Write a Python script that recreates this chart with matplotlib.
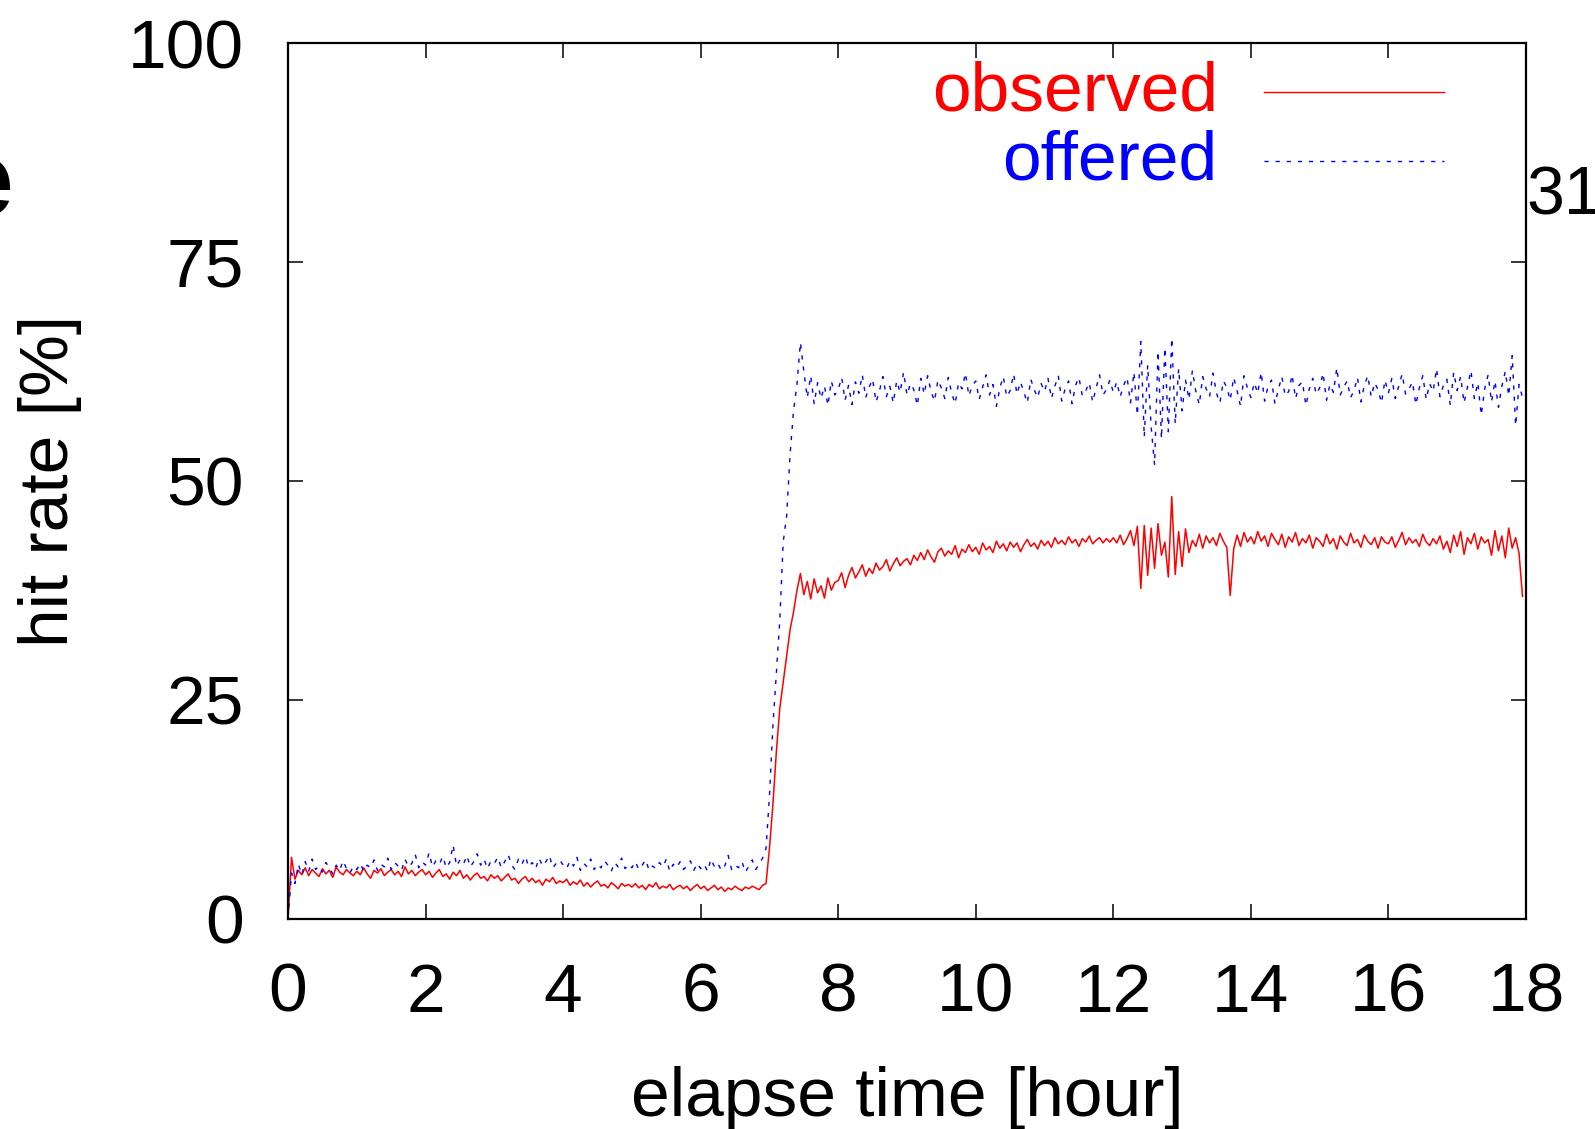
import numpy as np
import matplotlib
matplotlib.use("Agg")
import matplotlib.pyplot as plt

plt.rcParams['font.family'] = ['Liberation Sans', 'DejaVu Sans']

# elapse time grid: one sample every 0.05 hour, 0 .. 17.95
step = 0.05
n_hours = 18

# observed hit rate [%], one row per hour
observed = [
    0.0, 7.0, 4.5, 5.5, 5.0, 5.8, 4.9, 5.6, 5.2, 4.8, 5.7, 5.1, 5.5, 4.7, 5.9, 5.3, 5.0, 5.6, 5.2, 4.9,
    5.4, 5.0, 5.8, 5.1, 4.6, 5.5, 5.2, 5.7, 4.9, 5.3, 5.6, 5.0, 5.4, 4.8, 5.9, 5.1, 5.5, 4.9, 5.3, 5.6,
    5.0, 5.4, 4.7, 5.2, 5.6, 4.8, 5.1, 4.5, 5.3, 4.9, 5.5, 4.6, 5.0, 4.4, 4.9, 5.2, 4.6, 4.8, 4.3, 5.0,
    4.6, 4.9, 4.3, 4.7, 5.1, 4.4, 4.6, 4.0, 4.5, 4.8, 4.2, 4.6, 4.1, 4.4, 3.8, 4.5, 4.2, 4.7, 4.0, 4.3,
    4.1, 4.5, 3.8, 4.2, 3.9, 4.4, 3.7, 4.1, 3.6, 4.0, 4.3, 3.7, 3.9, 3.5, 4.1, 3.8, 3.4, 4.0, 3.7, 3.9,
    3.6, 4.0, 3.5, 3.8, 3.3, 3.9, 3.6, 4.1, 3.4, 3.7, 3.5, 3.9, 3.3, 3.6, 3.8, 3.4, 3.7, 3.2, 3.6, 3.9,
    3.4, 3.7, 3.2, 3.5, 3.8, 3.3, 3.6, 3.1, 3.5, 3.3, 3.7, 3.4, 3.2, 3.6, 3.4, 3.7, 3.5, 3.3, 3.8, 4.0,
    8.0, 13.0, 19.0, 24.0, 27.0, 30.0, 33.0, 35.0, 37.5, 39.4, 37.0, 38.5, 36.5, 38.8, 37.2, 38.0, 36.6, 38.9, 37.5, 38.4,
    38.6, 39.5, 37.8, 39.2, 40.1, 38.9, 39.6, 40.4, 39.1, 40.0, 39.4, 40.6, 39.8, 40.2, 41.0, 39.7, 40.5, 41.2, 40.3, 40.8,
    41.1, 40.4, 41.5, 40.9, 41.8, 41.0, 42.1, 41.3, 40.7, 41.9, 42.3, 41.4, 42.0, 41.6, 42.6, 41.2, 42.2, 41.8, 42.7, 41.9,
    42.4, 41.6, 42.9, 42.1, 42.5, 41.8, 43.1, 42.3, 42.8, 42.0, 43.0, 42.4, 42.9, 41.9, 42.7, 43.3, 42.5, 42.9, 42.2, 43.2,
    42.6, 43.1, 42.4, 43.5, 42.8, 43.2, 42.7, 43.6, 42.9, 43.3, 42.5, 43.4, 43.0, 43.7, 42.8, 43.2, 43.5, 42.9, 43.4, 43.0,
    43.5, 42.9, 43.8, 42.7, 43.4, 44.3, 42.6, 44.8, 37.7, 44.9, 39.2, 44.6, 40.0, 45.1, 41.5, 43.0, 39.0, 48.2, 39.3, 44.2,
    40.2, 44.5, 41.8, 43.2, 42.5, 43.9, 42.3, 43.7, 42.9, 43.5, 42.6, 44.0, 43.1, 42.4, 36.9, 42.2, 43.8, 42.5, 44.1, 43.0,
    43.6, 42.8, 44.2, 43.1, 43.7, 42.5, 44.0, 43.3, 42.7, 43.9, 42.4, 43.6, 43.0, 44.1, 42.6, 43.4, 42.9, 43.8, 42.3, 43.5,
    43.1, 42.5, 43.9, 42.8, 43.4, 42.2, 43.7, 43.0, 42.6, 44.0, 42.9, 43.3, 42.4, 43.8, 43.1, 42.7, 43.5, 42.3, 43.6, 43.0,
    42.8, 43.6, 42.4, 43.2, 44.1, 42.7, 43.5, 42.9, 43.3, 42.5, 43.9, 43.0, 42.6, 43.4, 42.8, 43.7, 42.2, 43.1, 41.8, 43.8,
    42.5, 44.2, 41.6, 43.5, 42.8, 44.0, 42.2, 43.6, 42.9, 43.3, 41.5, 44.3, 42.0, 43.7, 41.2, 44.6, 42.3, 43.5, 41.7, 36.8,
]

# offered hit rate [%], one row per hour
offered = [
    0.0, 5.2, 4.0, 6.2, 5.0, 6.5, 5.4, 6.8, 5.6, 6.0, 5.3, 6.4, 5.8, 5.1, 6.1, 5.5, 6.6, 5.7, 5.2, 6.0,
    5.6, 6.3, 5.4, 6.1, 5.8, 6.7, 5.5, 6.2, 5.9, 6.9, 5.6, 6.4, 6.0, 5.5, 6.8, 5.9, 6.3, 7.3, 5.8, 6.5,
    6.1, 7.5, 5.9, 6.6, 6.2, 7.1, 5.8, 6.4, 8.4, 6.0, 6.7, 6.2, 7.2, 5.9, 6.5, 7.4, 6.1, 6.8, 5.7, 6.6,
    6.3, 7.0, 5.8, 6.5, 7.3, 6.1, 5.6, 6.8, 6.2, 7.1, 5.9, 6.4, 5.7, 6.9, 6.0, 6.5, 7.2, 5.8, 6.3, 6.7,
    6.1, 5.7, 6.6, 6.0, 7.0, 5.5, 6.3, 5.9, 6.8, 5.6, 6.2, 5.8, 6.6, 6.1, 5.4, 6.4, 5.9, 6.9, 5.7, 6.2,
    5.8, 6.5, 5.6, 6.1, 6.7, 5.5, 6.0, 5.7, 6.4, 5.9, 6.8, 5.4, 6.2, 5.8, 6.5, 5.6, 6.0, 6.6, 5.5, 6.3,
    5.7, 6.2, 5.4, 6.8, 5.9, 6.3, 5.5, 6.0, 7.2, 5.6, 6.1, 5.8, 6.5, 5.3, 6.0, 6.7, 5.6, 6.2, 6.9, 8.0,
    14.0, 22.0, 28.0, 34.0, 43.0, 46.0, 53.0, 58.0, 61.0, 65.8, 62.5, 59.5, 62.0, 58.8, 61.2, 59.4, 60.8, 58.6, 61.4, 59.8,
    60.4, 61.8, 59.2, 60.9, 58.7, 61.3, 60.0, 62.1, 59.5, 60.7, 61.6, 59.0, 60.3, 61.9, 59.6, 60.8, 58.9, 61.4, 60.1, 62.4,
    59.8, 61.1, 60.4, 58.6, 61.7, 59.9, 62.0, 60.2, 59.1, 61.5, 60.6, 59.4, 61.8, 60.0, 58.8, 61.2, 60.5, 62.3, 59.7, 60.9,
    61.4, 59.3, 60.7, 62.1, 59.8, 61.0, 58.5, 60.6, 61.9, 59.6, 60.3, 62.2, 59.9, 61.3, 60.1, 58.9, 61.6, 60.4, 59.5, 61.1,
    60.2, 61.7, 59.4, 60.8, 62.0, 59.1, 60.5, 61.4, 58.8, 60.9, 61.8, 59.7, 60.3, 61.2, 59.0, 60.6, 62.1, 59.8, 60.4, 61.5,
    60.1, 61.3, 59.6, 60.9, 61.8, 58.9, 62.4, 57.5, 65.9, 55.0, 63.2, 56.2, 51.8, 64.8, 54.8, 65.2, 55.6, 66.3, 56.5, 62.8,
    58.0, 61.5, 59.3, 62.6, 60.2, 58.7, 61.9, 60.5, 59.6, 62.3, 60.0, 58.9, 61.4, 60.7, 59.2, 61.8, 60.3, 58.5, 62.0, 60.6,
    59.5, 61.2, 60.0, 62.4, 59.1, 60.8, 61.5, 58.8, 60.4, 61.9, 59.7, 60.2, 62.1, 59.4, 60.9, 61.3, 58.6, 60.5, 61.7, 59.9,
    60.6, 62.3, 59.2, 61.0, 60.1, 62.9, 59.8, 60.7, 61.4, 59.5, 60.3, 61.8, 59.0, 60.9, 62.0, 59.6, 61.2, 60.4, 58.9, 61.5,
    60.0, 61.7, 59.4, 60.8, 62.2, 59.9, 60.5, 61.3, 58.7, 60.6, 62.0, 59.3, 61.1, 60.2, 62.8, 59.6, 60.9, 61.6, 58.6, 62.4,
    60.3, 61.9, 58.9, 60.7, 62.6, 59.4, 61.2, 57.5, 60.5, 62.1, 59.0, 61.4, 58.4, 60.8, 62.5, 59.7, 64.3, 56.3, 61.0, 59.5,
]

hours = np.arange(len(observed)) * step

xticks = list(range(0, 19, 2))
yticks = [0, 25, 50, 75, 100]

fig = plt.figure(figsize=(15.95, 11.29), dpi=100)
ax = fig.add_axes([0.1806, 0.1864, 0.7761, 0.7755])

ax.plot(hours, observed, color='#ff0000', lw=1.1)
ax.plot(hours, offered, color='#0000ff', lw=1.0, dashes=(3, 5))

ax.set_xlim(0, 18)
ax.set_ylim(0, 100)
ax.set_xticks(xticks)
ax.set_yticks(yticks)

ax.tick_params(direction='in', length=11, width=1.1, labelsize=50,
               top=True, right=True)
ax.tick_params(axis='x', pad=31)
ax.tick_params(axis='y', pad=32)
for sp in ax.spines.values():
    sp.set_linewidth(1.6)

ax.set_xlabel('elapse time [hour]', fontsize=50, labelpad=29)
ax.set_ylabel('hit rate [%]', fontsize=50, labelpad=33)

# key, gnuplot style: right aligned text, sample line on the right
ax.text(0.751, 0.944, 'observed', color='#ff0000', fontsize=50,
        ha='right', va='center', transform=ax.transAxes)
ax.plot([0.788, 0.934], [0.944, 0.944], color='#ff0000', lw=1.0,
        transform=ax.transAxes)
ax.text(0.751, 0.865, 'offered', color='#0000ff', fontsize=50,
        ha='right', va='center', transform=ax.transAxes)
ax.plot([0.788, 0.934], [0.865, 0.865], color='#0000ff', lw=1.0,
        dashes=(3, 5), transform=ax.transAxes)

# stray fragments cut off at the figure edges
fig.text(0.0088, 0.8096, 'e', fontsize=76, fontweight='bold',
         ha='right', va='baseline')
fig.text(0.957, 0.8096, '31', fontsize=49, ha='left', va='baseline')

fig.savefig('out.png', dpi=100)
